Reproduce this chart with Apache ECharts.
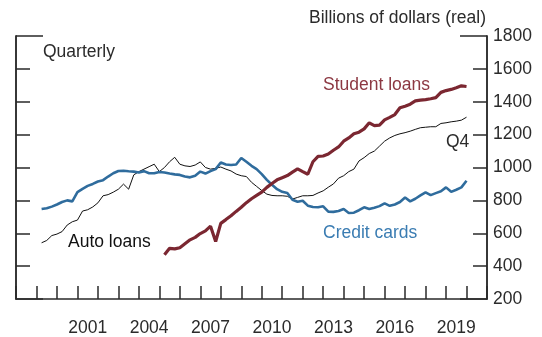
<!DOCTYPE html>
<html><head><meta charset="utf-8">
<script src="https://cdn.jsdelivr.net/npm/echarts@6/dist/echarts.min.js"></script>
<style>html,body{margin:0;padding:0;background:#fff}#c{width:542px;height:337px}</style>
</head><body><div id="c"></div>
<script>
// Quarterly data, first value = Q1 of the start year; plotted at end of quarter
const creditStartYear = 1999;
const creditCards = [
  747, 752, 762, 775,
  790, 800, 794, 850,
  870, 888, 900, 915,
  923, 945, 965, 979,
  980, 977, 975, 970,
  978, 965, 965, 973,
  970, 963, 958, 955,
  945, 940, 950, 975,
  963, 978, 990, 1030,
  1018, 1015, 1018, 1058,
  1035, 1010, 990, 960,
  925, 895, 868, 852,
  845, 804, 792, 798,
  768, 760, 758, 764,
  731, 730, 735, 747,
  723, 725, 740, 758,
  747, 755, 765, 782,
  767, 775, 790, 818,
  794, 810, 830, 849,
  832, 844, 855, 879,
  852, 865, 879, 919
];
const autoStartYear = 1999;
const autoLoans = [
  542, 556, 586, 595,
  610, 650, 670, 680,
  735, 743, 760, 785,
  828, 835, 850, 868,
  899, 868, 955, 975,
  990, 1005, 1020, 975,
  1000, 1035, 1062, 1020,
  1010, 1006, 1015, 1034,
  1000, 990, 995, 1003,
  990, 979, 960, 950,
  945, 910, 885, 860,
  838, 830, 828, 828,
  825, 808, 818, 828,
  828, 830, 845, 858,
  880, 900, 935, 950,
  975, 990, 1040, 1060,
  1085, 1100, 1130, 1160,
  1180, 1195, 1205, 1212,
  1221, 1232, 1242, 1245,
  1248, 1248, 1268, 1272,
  1278, 1282, 1288, 1306
];
const studentStartYear = 2005;
const studentLoans = [
  469, 508, 505, 512,
  536, 560, 575, 598,
  614, 643, 550, 660,
  683, 707, 733, 758,
  786, 810, 830, 850,
  879, 903, 925, 938,
  951, 972, 992, 975,
  959, 1035, 1068, 1070,
  1082, 1105, 1125, 1160,
  1180, 1205, 1215, 1235,
  1272, 1255, 1258, 1290,
  1305, 1322, 1363, 1373,
  1385, 1405, 1410, 1413,
  1418, 1425, 1457, 1468,
  1475, 1485, 1497, 1493
];
const xMin = 1998, xMax = 2021;
const yMin = 200, yMax = 1800, yStep = 200;
const xLabelYears = [2001, 2004, 2007, 2010, 2013, 2016, 2019];

function toPoints(startYear, vals) {
  return vals.map((v, i) => [startYear + 0.25 * (i + 1), v]);
}

const FONT = '"Liberation Sans", Arial, Helvetica, sans-serif';
const AX = { color: '#2a2a2a', width: 1.5 };
const TXT = '#2b2b2b';
const chart = echarts.init(document.getElementById('c'), null, { renderer: 'canvas' });

function yAx(pos, interval, len, labels) {
  return {
    type: 'value', position: pos, min: yMin, max: yMax, interval: interval,
    axisLine: { show: true, lineStyle: AX },
    axisTick: { show: true, inside: true, length: len, lineStyle: AX },
    axisLabel: { show: labels, margin: 6, fontSize: 17.5, color: TXT, fontFamily: FONT,
                 formatter: v => String(v) },
    splitLine: { show: false }
  };
}

chart.setOption({
  animation: false,
  backgroundColor: '#fff',
  grid: { left: 16, right: 55, top: 36, bottom: 36, containLabel: false },
  xAxis: [
    {
      type: 'value', position: 'bottom', min: xMin, max: xMax, interval: 1,
      axisLine: { show: true, onZero: false, lineStyle: AX },
      axisTick: { show: true, inside: true, length: 13, lineStyle: AX },
      axisLabel: { show: false },
      splitLine: { show: false }
    },
    {
      type: 'value', position: 'bottom', min: xMin - 0.5, max: xMax - 0.5, interval: 0.5,
      axisLine: { show: false, onZero: false },
      axisTick: { show: false },
      axisLabel: {
        show: true, margin: 20, fontSize: 17.5, color: TXT, fontFamily: FONT,
        showMinLabel: true, showMaxLabel: true,
        formatter: v => (xLabelYears.indexOf(Math.round(v * 2) / 2) >= 0 ? String(v) : '')
      },
      splitLine: { show: false }
    }
  ],
  yAxis: [
    yAx('right', yStep, 14, true),
    yAx('left', yStep, 14, false),
    yAx('right', yMax - yMin, 27, false),
    yAx('left', yMax - yMin, 27, false)
  ],
  series: [
    {
      name: 'Auto loans', type: 'line', xAxisIndex: 0, yAxisIndex: 0,
      data: toPoints(autoStartYear, autoLoans), showSymbol: false, symbol: 'none',
      lineStyle: { color: '#111', width: 1 }, z: 2
    },
    {
      name: 'Credit cards', type: 'line', xAxisIndex: 0, yAxisIndex: 0,
      data: toPoints(creditStartYear, creditCards), showSymbol: false, symbol: 'none',
      lineStyle: { color: '#2f6c9d', width: 2.6 }, z: 3
    },
    {
      name: 'Student loans', type: 'line', xAxisIndex: 0, yAxisIndex: 0,
      data: toPoints(studentStartYear, studentLoans), showSymbol: false, symbol: 'none',
      lineStyle: { color: '#7b2731', width: 3.2 }, z: 4
    }
  ],
  graphic: [
    { type: 'text', right: 56, top: 9, style: { text: 'Billions of dollars (real)', font: '17.5px ' + FONT, fill: TXT } },
    { type: 'text', left: 43, top: 43, style: { text: 'Quarterly', font: '17.5px ' + FONT, fill: TXT } },
    { type: 'text', left: 323, top: 76, style: { text: 'Student loans', font: '17.5px ' + FONT, fill: '#8c3842' } },
    { type: 'text', left: 446, top: 133, style: { text: 'Q4', font: '17.5px ' + FONT, fill: TXT } },
    { type: 'text', left: 323, top: 224, style: { text: 'Credit cards', font: '17.5px ' + FONT, fill: '#3a7cb2' } },
    { type: 'text', left: 68, top: 233, style: { text: 'Auto loans', font: '17.5px ' + FONT, fill: '#111' } }
  ]
});
</script>
</body></html>
